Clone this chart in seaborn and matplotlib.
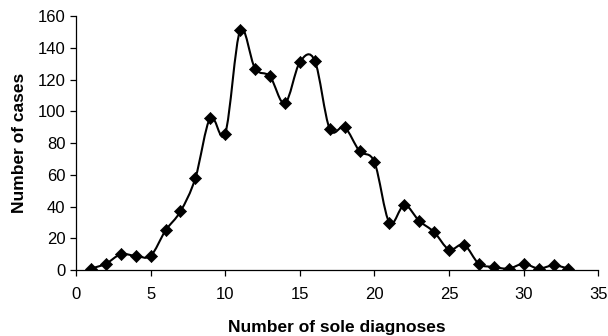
import numpy as np
import pandas as pd
import matplotlib
matplotlib.use("Agg")
import matplotlib.pyplot as plt
from matplotlib.path import Path
from matplotlib.patches import PathPatch
import seaborn as sns

# data
diagnoses = list(range(1, 34))
cases = [1, 4, 10, 9, 9, 25, 37, 58, 96, 86,
         151, 127, 122, 105, 131, 132, 89, 90, 75, 68,
         30, 41, 31, 24, 13, 16, 4, 2, 1, 4,
         1, 3, 1]

df = pd.DataFrame({"diagnoses": diagnoses, "cases": cases})

sns.set_style("white", {"text.color": "black", "axes.labelcolor": "black",
                        "xtick.color": "black", "ytick.color": "black"})
plt.rcParams['font.family'] = ['Liberation Sans', 'DejaVu Sans']

fig = plt.figure(figsize=(6.08, 3.36), dpi=100)
ax = fig.add_axes([0.125, 0.196, 0.859, 0.756])

# smoothed line (Catmull-Rom style bezier through the points, like a spreadsheet smooth line)
pts = np.column_stack([df["diagnoses"], df["cases"]]).astype(float)
verts = [pts[0]]
codes = [Path.MOVETO]
for i in range(len(pts) - 1):
    p0 = pts[i - 1] if i > 0 else pts[i]
    p1 = pts[i]
    p2 = pts[i + 1]
    p3 = pts[i + 2] if i + 2 < len(pts) else pts[i + 1]
    c1 = p1 + (p2 - p0) / 6.0
    c2 = p2 - (p3 - p1) / 6.0
    verts += [c1, c2, p2]
    codes += [Path.CURVE4] * 3
ax.add_patch(PathPatch(Path(verts, codes), facecolor='none', edgecolor='black', lw=1.5))

sns.scatterplot(data=df, x="diagnoses", y="cases", marker='D', s=38,
                color='black', edgecolor='black', ax=ax, zorder=3)

ax.set_xlim(0, 35)
ax.set_ylim(0, 160)
ax.set_xticks(range(0, 36, 5))
ax.set_yticks(range(0, 161, 20))

for s in ['top', 'right']:
    ax.spines[s].set_visible(False)
for s in ['left', 'bottom']:
    ax.spines[s].set_color('black')
    ax.spines[s].set_linewidth(0.9)

ax.tick_params(axis='both', direction='out', length=4, width=0.9, color='black',
               labelcolor='black', labelsize=12, bottom=True, left=True)
ax.tick_params(axis='x', pad=8)

ax.set_xlabel('Number of sole diagnoses', fontsize=12.5, fontweight='bold',
              labelpad=13, color='black')
ax.set_ylabel('Number of cases', fontsize=12.5, fontweight='bold',
              labelpad=8, color='black')

plt.savefig('out.png', dpi=100)
